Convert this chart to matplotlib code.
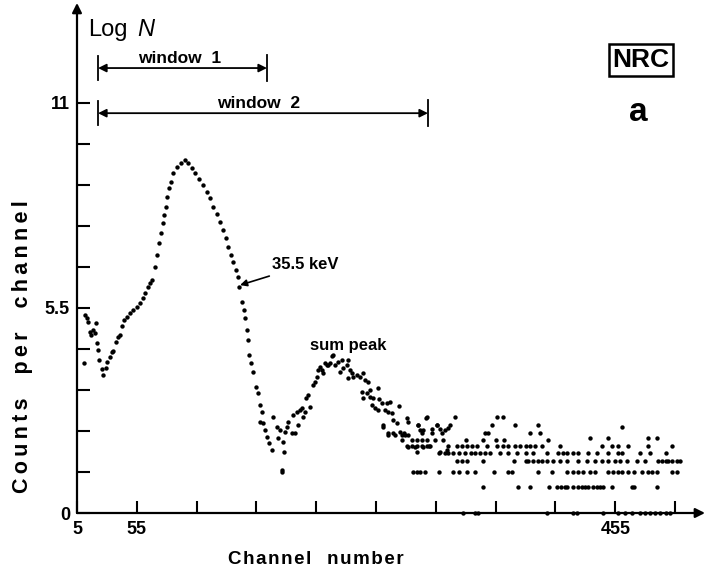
import numpy as np
import matplotlib
matplotlib.use('Agg')
import matplotlib.pyplot as plt

plt.rcParams['font.family'] = ['Liberation Sans', 'DejaVu Sans']

# main peak + sum peak region (channel, log N)
main_ch = [11.7, 13.4, 14.2, 20.9, 15.9, 18.4, 16.7, 20.0, 21.7, 22.6, 10.9, 23.4,
           25.9, 26.7, 29.2, 30.1, 32.6, 34.3, 35.1, 37.6, 39.3, 41.0, 42.6, 44.3,
           46.8, 49.3, 51.8, 55.2, 57.7, 60.2, 61.8, 64.4, 66.0, 67.7, 70.2, 71.9,
           73.6, 75.2, 76.9, 77.7, 79.4, 80.2, 81.9, 83.6, 85.3, 88.6, 91.9, 95.3,
           97.8, 101.1, 103.6, 107.0, 110.3, 113.7, 116.2, 118.7, 122.0, 124.5, 127.1,
           129.6, 131.2, 133.7, 135.4, 137.9, 139.6, 140.4,
           142.9, 144.6, 145.4, 147.1, 148.0, 148.8, 150.5, 152.1, 154.6, 156.3,
           158.0, 159.7, 158.0, 160.5, 162.2, 163.8, 165.5, 168.0, 168.9, 172.2,
           174.7, 173.0, 177.2, 178.1, 176.4, 178.9, 180.6, 181.4, 184.7, 187.2,
           185.6, 188.9, 189.8, 191.4, 193.1, 193.9, 195.6, 199.8, 196.4, 198.1,
           202.3, 204.0, 205.6, 206.5, 208.1, 209.8, 210.7, 214.0, 216.5, 218.2,
           220.7, 223.2, 212.3, 214.8, 219.0, 224.9, 227.4, 230.7, 226.5, 231.6,
           233.2, 234.9, 235.7, 239.1, 231.6, 241.6, 244.1, 245.8, 248.3, 243.3,
           247.4, 250.0, 244.1, 250.0, 252.5, 256.6, 257.5, 251.6, 254.1, 260.0,
           264.2, 266.7, 256.6, 262.5, 265.0, 268.3, 274.2, 269.2, 272.5, 260.8,
           265.0, 270.8, 275.0, 276.7, 279.2, 281.7, 280.9, 281.7, 276.7, 285.1,
           281.7, 287.6, 290.1, 296.8, 291.7, 294.3, 289.2, 293.4, 297.6, 301.8,
           306.0, 308.5, 312.6, 315.2, 294.3, 299.3, 304.3, 308.5, 314.3, 289.2]
main_val = [5.31, 5.23, 5.12, 5.09, 4.85, 4.91, 4.77, 4.83, 4.56, 4.37, 4.02, 4.10,
            3.86, 3.70, 3.89, 4.05, 4.18, 4.32, 4.34, 4.58, 4.72, 4.77, 5.01, 5.17,
            5.25, 5.36, 5.44, 5.52, 5.63, 5.76, 5.90, 6.06, 6.17, 6.25, 6.60, 6.92,
            7.24, 7.51, 7.77, 7.99, 8.20, 8.47, 8.71, 8.87, 9.12, 9.28, 9.38, 9.46,
            9.38, 9.25, 9.12, 8.95, 8.79, 8.61, 8.45, 8.20, 8.02, 7.80, 7.59,
            7.37, 7.13, 6.92, 6.73, 6.51, 6.33, 6.06,
            5.66, 5.44, 5.23, 4.91, 4.64, 4.24, 4.02, 3.78, 3.38, 3.22,
            2.90, 2.71, 2.44, 2.41, 2.23, 2.04, 1.88, 1.69, 2.57, 2.31,
            2.23, 2.01, 1.90, 1.64, 1.15, 2.17, 2.31, 2.44, 2.14, 2.14,
            2.63, 2.71, 2.36, 2.76, 2.82, 2.57, 2.71, 2.84, 3.08, 3.16,
            3.43, 3.51, 3.65, 3.83, 3.91, 3.83, 3.75, 3.97, 4.02, 4.21,
            3.97, 4.05, 4.02, 3.97, 4.24, 3.78, 3.89, 3.97, 4.10, 4.10,
            3.83, 3.75, 3.65, 3.70, 3.62, 3.65, 3.75, 3.57, 3.51, 3.24,
            3.22, 3.30, 3.08, 3.11, 3.08, 3.35, 3.06, 2.90, 2.82, 2.95,
            2.95, 2.98, 2.76, 2.76, 2.71, 2.68, 2.87, 2.49, 2.41, 2.31,
            2.09, 2.09, 2.17, 2.09, 2.09, 2.09, 2.55, 2.44, 1.96, 1.96,
            1.77, 1.77, 2.36, 2.55, 2.23, 2.23, 1.96, 1.96, 1.96, 2.25,
            2.36, 2.25, 2.23, 2.28, 1.77, 1.80, 1.96, 1.64, 1.69, 1.64]

# scattered higher tail points
tail_hi_ch = [298, 321, 356, 361, 261, 290, 306, 317, 352, 371, 390, 461,
              265, 269, 278, 293, 302, 310, 346, 349, 384, 392,
              434, 449, 482, 490, 311, 330, 344, 355, 362, 399]
tail_hi_val = [2.57, 2.57, 2.57, 2.57, 2.36, 2.36, 2.36, 2.36, 2.36, 2.36, 2.36, 2.30,
               2.14, 2.14, 2.14, 2.14, 2.14, 2.14, 2.14, 2.14, 2.14, 2.14,
               2.01, 2.01, 2.01, 2.01, 1.96, 1.96, 1.96, 1.96, 1.96, 1.96]

# tail: channels that hold N counts (quantized log levels)
ch_n1 = [328, 338, 340, 398, 420, 423, 445, 457, 463, 469, 476, 480, 484, 488, 492, 497, 501]
ch_n2 = [344, 374, 384, 400, 406, 410, 413, 415, 420, 424, 427, 430, 432, 436, 440,
         442, 445, 452, 469, 471, 490]
ch_n3 = [176, 286, 289, 292, 296, 308, 319, 324, 331, 338, 354, 365, 369, 390, 402,
         415, 420, 424, 428, 434, 438, 449, 453, 457, 461, 466, 471, 477, 482, 486,
         490, 502, 507]
ch_n4 = [323, 327, 331, 344, 370, 380, 382, 386, 390, 394, 398, 403, 409, 415, 424,
         431, 438, 444, 449, 455, 459, 465, 473, 480, 491, 494, 497, 499, 502, 507, 509]
ch_n5 = [308, 313, 315, 319, 324, 329, 334, 338, 342, 346, 350, 359, 365, 373, 380,
         386, 398, 407, 411, 415, 420, 424, 432, 440, 449, 457, 461, 476, 484, 497]
ch_n6 = [281, 285, 289, 293, 298, 300, 315, 323, 327, 331, 335, 339, 348, 356, 361,
         365, 371, 375, 380, 384, 388, 394, 409, 444, 452, 457, 466, 482, 502]
tail_rows = {1: ch_n1, 2: ch_n2, 3: ch_n3, 4: ch_n4, 5: ch_n5, 6: ch_n6}

x_ticks = list(range(5, 506, 50))
x_labels = ['5', '55', '', '', '', '', '', '', '', '455', '']
y_ticks = [i * 1.1 for i in range(11)]
y_labels = ['0', '', '', '', '', '5.5', '', '', '', '', '11']


def spaced(s, gap, word_gap):
    # wide letter spacing like the original typesetting
    return gap.join(s).replace(gap + ' ' + gap, word_gap)


fig = plt.figure(figsize=(7.11, 5.73), dpi=100)
ax = fig.add_axes([77 / 711, 60 / 573, 628 / 711, 505 / 573])
ax.set_xlim(5, 530)
ax.set_ylim(0, 13.54)

ms = 10
ax.scatter(main_ch, main_val, s=ms, c='black', lw=0, clip_on=False)
ax.scatter(tail_hi_ch, tail_hi_val, s=ms, c='black', lw=0)
for n, chs in tail_rows.items():
    ax.scatter(chs, np.full(len(chs), np.log(n)), s=ms, c='black', lw=0, clip_on=False)

for s in ['top', 'right', 'left', 'bottom']:
    ax.spines[s].set_visible(False)
ax.annotate('', xy=(1, 0), xytext=(0, 0), xycoords='axes fraction',
            arrowprops=dict(arrowstyle='-|>', lw=1.6, color='black', mutation_scale=14,
                            shrinkA=0, shrinkB=0))
ax.annotate('', xy=(0, 1.01), xytext=(0, 0), xycoords='axes fraction',
            arrowprops=dict(arrowstyle='-|>', lw=1.6, color='black', mutation_scale=14,
                            shrinkA=0, shrinkB=0))

ax.set_xticks(x_ticks)
ax.set_xticklabels(x_labels, fontsize=13, fontweight='bold')
ax.set_yticks(y_ticks)
ax.set_yticklabels(y_labels, fontsize=13, fontweight='bold')
ax.tick_params(axis='both', direction='in', length=9, width=1.5)
ax.tick_params(axis='x', pad=6)
ax.tick_params(axis='y', pad=5)

ax.set_xlabel(spaced('Channel number', '\u200a', '   '), fontsize=13.5, fontweight='bold')
ax.xaxis.set_label_coords(0.38, -0.075)
ax.set_ylabel(spaced('Counts per channel', '\u2009', '    '), fontsize=15.5, fontweight='bold')
ax.yaxis.set_label_coords(-0.07, 0.329)

ax.text(14.2, 12.8, 'Log', fontsize=17, ha='left', va='baseline')
ax.text(55, 12.8, 'N', fontsize=17, style='italic', ha='left', va='baseline')

# windows
w_left, w1_right, w2_right = 22.6, 163.8, 298.4
w1_y, w2_y = 11.93, 10.72
for xr, yy in [(w1_right, w1_y), (w2_right, w2_y)]:
    ax.annotate('', xy=(xr, yy), xytext=(w_left, yy),
                arrowprops=dict(arrowstyle='<|-|>', lw=1.3, color='black',
                                mutation_scale=12, shrinkA=0, shrinkB=0))
    ax.plot([w_left, w_left], [yy - 0.32, yy + 0.32], color='black', lw=1.3)
    ax.plot([xr, xr], [yy - 0.34, yy + 0.34], color='black', lw=1.3)
ax.text(91, w1_y + 0.06, 'window  1', fontsize=12.5,
        fontweight='bold', ha='center', va='bottom')
ax.text(157, w2_y + 0.06, 'window  2', fontsize=12.5,
        fontweight='bold', ha='center', va='bottom')

ax.annotate('35.5 keV', xy=(141.3, 6.11), xytext=(168, 6.65), fontsize=12,
            fontweight='bold', ha='left', va='center',
            arrowprops=dict(arrowstyle='-|>', lw=1.2, color='black', mutation_scale=10,
                            shrinkA=2, shrinkB=0))
ax.text(231.6, 4.5, 'sum peak', fontsize=12, fontweight='bold', ha='center', va='center')

ax.text(476.5, 12.15, 'NRC', fontsize=19, fontweight='bold', ha='center', va='center',
        bbox=dict(boxstyle='square,pad=0.15', fc='white', ec='black', lw=1.8))
ax.text(474, 10.75, 'a', fontsize=24, fontweight='bold', ha='center', va='center')

fig.savefig('out.png', dpi=100)
